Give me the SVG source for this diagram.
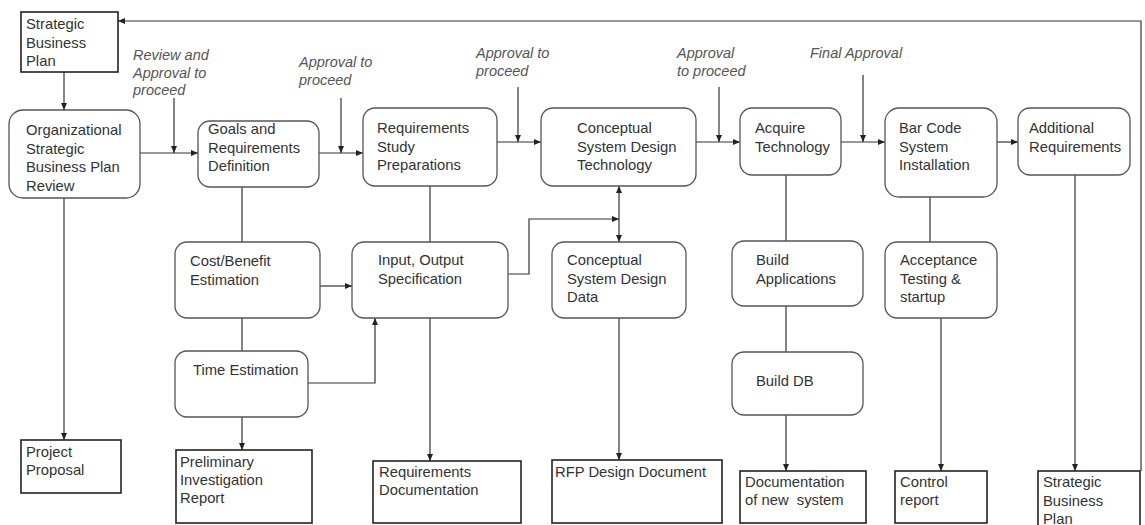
<svg xmlns="http://www.w3.org/2000/svg" width="1145" height="525" viewBox="0 0 1145 525">
<style>
.proc{fill:#fff;stroke:#555;stroke-width:1.3}
.doc{fill:#fff;stroke:#222;stroke-width:1.6}
.t{font-family:"Liberation Sans",Arial,sans-serif;font-size:14.8px;fill:#333}
.a{font-family:"Liberation Sans",Arial,sans-serif;font-size:14.5px;font-style:italic;fill:#555}
.c{fill:none;stroke:#333;stroke-width:1.2}
.ar{marker-end:url(#ah)}
</style>
<defs>
<marker id="ah" markerUnits="userSpaceOnUse" markerWidth="8" markerHeight="8" refX="7" refY="3" orient="auto-start-reverse">
<path d="M0,0 L7,3 L0,6 z" fill="#222"/>
</marker>
</defs>
<rect width="1145" height="525" fill="#fff"/>

<g id="connectors">
<line class="c ar" x1="64" y1="72" x2="64" y2="110"/>
<line class="c ar" x1="140" y1="153" x2="198" y2="153"/>
<line class="c ar" x1="174" y1="98" x2="174" y2="153"/>
<line class="c ar" x1="319" y1="153" x2="363" y2="153"/>
<line class="c ar" x1="341" y1="98" x2="341" y2="153"/>
<line class="c ar" x1="497" y1="142" x2="541" y2="142"/>
<line class="c ar" x1="518" y1="87" x2="518" y2="142"/>
<line class="c ar" x1="696" y1="142" x2="740" y2="142"/>
<line class="c ar" x1="719" y1="87" x2="719" y2="142"/>
<line class="c ar" x1="841" y1="142" x2="885" y2="142"/>
<line class="c ar" x1="863" y1="75" x2="863" y2="142"/>
<line class="c ar" x1="997" y1="142" x2="1018" y2="142"/>
<line class="c ar" x1="1075" y1="175" x2="1075" y2="471"/>
<path class="c ar" d="M1141,471 V21 H118"/>
<line class="c ar" x1="64" y1="198" x2="64" y2="440"/>
<line class="c" x1="242" y1="187" x2="242" y2="242"/>
<line class="c" x1="242" y1="318" x2="242" y2="351"/>
<line class="c ar" x1="242" y1="417" x2="242" y2="450"/>
<line class="c ar" x1="320" y1="286" x2="352" y2="286"/>
<path class="c ar" d="M308,383 H375 V318"/>
<line class="c" x1="430" y1="186" x2="430" y2="242"/>
<line class="c ar" x1="430" y1="318" x2="430" y2="461"/>
<path class="c ar" d="M508,274 H529 V219 H619"/>
<line class="c ar" x1="619" y1="214" x2="619" y2="186"/>
<line class="c ar" x1="619" y1="214" x2="619" y2="242"/>
<line class="c ar" x1="619" y1="318" x2="619" y2="460"/>
<line class="c" x1="786" y1="175" x2="786" y2="241"/>
<line class="c" x1="786" y1="306" x2="786" y2="352"/>
<line class="c ar" x1="786" y1="415" x2="786" y2="471"/>
<line class="c" x1="930" y1="197" x2="930" y2="242"/>
<line class="c ar" x1="941" y1="318" x2="941" y2="471"/>
</g>

<g id="annotations">
<text class="a"><tspan x="133" y="60">Review and</tspan><tspan x="133" y="77.5">Approval to</tspan><tspan x="133" y="95">proceed</tspan></text>
<text class="a"><tspan x="299" y="67">Approval to</tspan><tspan x="299" y="84.5">proceed</tspan></text>
<text class="a"><tspan x="476" y="58">Approval to</tspan><tspan x="476" y="76">proceed</tspan></text>
<text class="a"><tspan x="677" y="58">Approval</tspan><tspan x="677" y="76">to proceed</tspan></text>
<text class="a" x="810" y="58">Final Approval</text>
</g>

<g id="sbp-top"><rect class="doc" x="21" y="12" width="97" height="60"/>
<text class="t"><tspan x="26" y="29">Strategic</tspan><tspan x="26" y="47.5">Business</tspan><tspan x="26" y="66">Plan</tspan></text></g>

<g id="org"><rect class="proc" x="9" y="110" width="131" height="88" rx="14"/>
<text class="t"><tspan x="26" y="135">Organizational</tspan><tspan x="26" y="153.5">Strategic</tspan><tspan x="26" y="172">Business Plan</tspan><tspan x="26" y="190.5">Review</tspan></text></g>

<g id="goals"><rect class="proc" x="198" y="121" width="121" height="66" rx="12"/>
<text class="t"><tspan x="208" y="134">Goals and</tspan><tspan x="208" y="152.5">Requirements</tspan><tspan x="208" y="171">Definition</tspan></text></g>

<g id="reqstudy"><rect class="proc" x="363" y="108" width="134" height="78" rx="12"/>
<text class="t"><tspan x="377" y="133">Requirements</tspan><tspan x="377" y="151.5">Study</tspan><tspan x="377" y="170">Preparations</tspan></text></g>

<g id="conctech"><rect class="proc" x="541" y="108" width="155" height="78" rx="12"/>
<text class="t"><tspan x="577" y="133">Conceptual</tspan><tspan x="577" y="151.5">System Design</tspan><tspan x="577" y="170">Technology</tspan></text></g>

<g id="acquire"><rect class="proc" x="740" y="108" width="101" height="67" rx="12"/>
<text class="t"><tspan x="755" y="133">Acquire</tspan><tspan x="755" y="151.5">Technology</tspan></text></g>

<g id="barcode"><rect class="proc" x="885" y="108" width="112" height="89" rx="14"/>
<text class="t"><tspan x="899" y="133">Bar Code</tspan><tspan x="899" y="151.5">System</tspan><tspan x="899" y="170">Installation</tspan></text></g>

<g id="additional"><rect class="proc" x="1018" y="108" width="112" height="67" rx="12"/>
<text class="t"><tspan x="1029" y="133">Additional</tspan><tspan x="1029" y="151.5">Requirements</tspan></text></g>

<g id="cost"><rect class="proc" x="175" y="242" width="145" height="76" rx="12"/>
<text class="t"><tspan x="190" y="266">Cost/Benefit</tspan><tspan x="190" y="284.5">Estimation</tspan></text></g>

<g id="input"><rect class="proc" x="352" y="242" width="156" height="76" rx="12"/>
<text class="t"><tspan x="378" y="265">Input, Output</tspan><tspan x="378" y="283.5">Specification</tspan></text></g>

<g id="concdata"><rect class="proc" x="552" y="242" width="134" height="76" rx="12"/>
<text class="t"><tspan x="567" y="265">Conceptual</tspan><tspan x="567" y="283.5">System Design</tspan><tspan x="567" y="302">Data</tspan></text></g>

<g id="buildapp"><rect class="proc" x="732" y="241" width="131" height="65" rx="12"/>
<text class="t"><tspan x="756" y="265">Build</tspan><tspan x="756" y="283.5">Applications</tspan></text></g>

<g id="acceptance"><rect class="proc" x="885" y="242" width="112" height="76" rx="12"/>
<text class="t"><tspan x="900" y="265">Acceptance</tspan><tspan x="900" y="283.5">Testing &amp;</tspan><tspan x="900" y="302">startup</tspan></text></g>

<g id="time"><rect class="proc" x="175" y="351" width="133" height="66" rx="12"/>
<text class="t" x="193" y="375">Time Estimation</text></g>

<g id="builddb"><rect class="proc" x="732" y="352" width="131" height="63" rx="12"/>
<text class="t" x="756" y="386">Build DB</text></g>

<g id="proposal"><rect class="doc" x="21" y="440" width="100" height="53"/>
<text class="t"><tspan x="26" y="457">Project</tspan><tspan x="26" y="474.5">Proposal</tspan></text></g>

<g id="prelim"><rect class="doc" x="176" y="450" width="136" height="73"/>
<text class="t"><tspan x="180" y="467">Preliminary</tspan><tspan x="180" y="485">Investigation</tspan><tspan x="180" y="503">Report</tspan></text></g>

<g id="reqdoc"><rect class="doc" x="373" y="461" width="148" height="62"/>
<text class="t"><tspan x="379" y="477">Requirements</tspan><tspan x="379" y="494.5">Documentation</tspan></text></g>

<g id="rfp"><rect class="doc" x="552" y="460" width="170" height="63"/>
<text class="t" x="555" y="477">RFP Design Document</text></g>

<g id="docnew"><rect class="doc" x="740" y="471" width="126" height="52"/>
<text class="t"><tspan x="745" y="487">Documentation</tspan><tspan x="745" y="505" xml:space="preserve">of new  system</tspan></text></g>

<g id="control"><rect class="doc" x="895" y="471" width="92" height="52"/>
<text class="t"><tspan x="900" y="487">Control</tspan><tspan x="900" y="505">report</tspan></text></g>

<g id="sbp-bottom"><rect class="doc" x="1038" y="471" width="102" height="60"/>
<text class="t"><tspan x="1043" y="487">Strategic</tspan><tspan x="1043" y="505.5">Business</tspan><tspan x="1043" y="524">Plan</tspan></text></g>
</svg>
